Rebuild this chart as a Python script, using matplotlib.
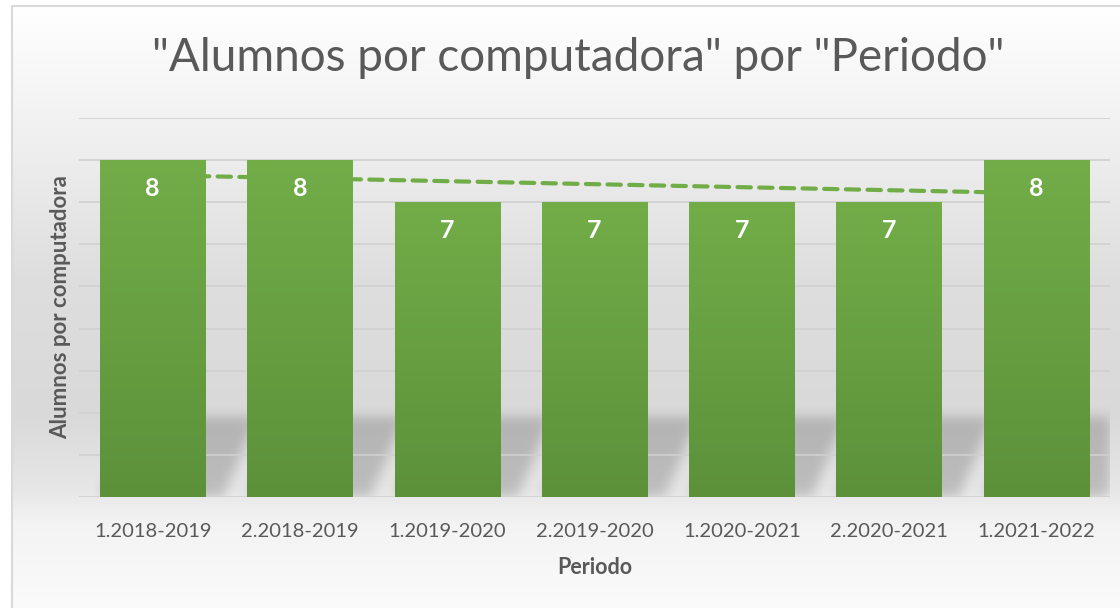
import numpy as np
import matplotlib.pyplot as plt
from matplotlib.colors import LinearSegmentedColormap
from matplotlib.patches import Rectangle

periodos = ['1.2018-2019', '2.2018-2019', '1.2019-2020', '2.2019-2020',
            '1.2020-2021', '2.2020-2021', '1.2021-2022']
alumnos = [8, 8, 7, 7, 7, 7, 8]

plt.rcParams['font.family'] = ['Lato', 'DejaVu Sans']

W, H = 1120, 608
fig = plt.figure(figsize=(W / 100, H / 100), dpi=100)
fig.patch.set_facecolor('white')

# chart area background (vertical grey gradient) + frame
bg = fig.add_axes([12 / W, 0, 1 - 12 / W, (H - 6) / H], zorder=-10)
bg_cmap = LinearSegmentedColormap.from_list('bg', [
    (0.0, '#ffffff'), (0.2, '#f1f1f1'), (0.45, '#dedede'),
    (0.68, '#d9d9d9'), (0.80, '#e6e6e6'), (0.86, '#f3f3f3'), (1.0, '#fbfbfb')])
bg.imshow(np.linspace(0, 1, 256).reshape(-1, 1), cmap=bg_cmap, aspect='auto',
          extent=(0, 1, 0, 1))
bg.set_xlim(0, 1)
bg.set_ylim(0, 1)
bg.axis('off')
fig.patches.append(Rectangle((12 / W, -0.01), 1.0, (H - 6) / H + 0.01,
                             transform=fig.transFigure, fill=False,
                             edgecolor='#d9d9d9', linewidth=1.5, zorder=5))

ax = fig.add_axes([79 / W, (H - 497) / H, 1031 / W, 379 / H])
ax.set_facecolor('none')
x = np.arange(len(periodos))
ymax = 9
ax.set_xlim(-0.5, len(periodos) - 0.5)
ax.set_ylim(0, ymax)

# soft shadow behind the bars
bw = 0.714
nx, ny = 1031, 379
gx = np.linspace(-0.5, len(periodos) - 0.5, nx)
gy = np.linspace(ymax, 0, ny)
GX, GY = np.meshgrid(gx, gy)
mask = np.zeros_like(GX)
for xi in x:
    hs = 1.9
    shear = 0.12
    left = xi - bw / 2 + shear * GY
    right = xi + bw / 2 + 0.12 + shear * GY
    mask[(GY <= hs) & (GX >= left) & (GX <= right)] = 1.0
sig = 6
k = np.exp(-0.5 * (np.arange(-3 * sig, 3 * sig + 1) / sig) ** 2)
k /= k.sum()
mask = np.apply_along_axis(lambda r: np.convolve(r, k, mode='same'), 1, mask)
mask = np.apply_along_axis(lambda c: np.convolve(c, k, mode='same'), 0, mask)
shadow = np.zeros((ny, nx, 4))
shadow[..., 3] = 0.18 * mask
ax.imshow(shadow, extent=(-0.5, len(periodos) - 0.5, 0, ymax), aspect='auto',
          zorder=1, interpolation='bilinear')

# gridlines
for g in range(0, ymax + 1):
    ax.axhline(g, color='#d0d0d0', lw=1.2, zorder=1.5)

# trend line (linear fit)
coef = np.polyfit(x + 1, alumnos, 1)
trend = np.polyval(coef, x + 1)
ax.plot(x, trend, color='#70ad47', lw=3, ls=(0, (3.2, 2.0)),
        dash_capstyle='round', zorder=2)

# bars with vertical gradient
bar_cmap = LinearSegmentedColormap.from_list('bar', ['#5c913a', '#72ad48'])
grad = np.linspace(1, 0, 256).reshape(-1, 1)
for xi, v in zip(x, alumnos):
    ax.imshow(grad, cmap=bar_cmap, aspect='auto', zorder=3,
              extent=(xi - bw / 2, xi + bw / 2, 0, v), vmin=0, vmax=1)
    ax.text(xi, v - 0.68, str(v), ha='center', va='center', color='white',
            fontsize=18, fontweight='bold', zorder=4)
ax.set_xlim(-0.5, len(periodos) - 0.5)
ax.set_ylim(0, ymax)

ax.set_xticks(x)
ax.set_xticklabels(periodos, fontsize=14.5, color='#595959')
ax.tick_params(axis='x', length=0, pad=19)
ax.set_yticks([])
for s in ax.spines.values():
    s.set_visible(False)

ax.set_xlabel('Periodo', fontsize=15.5, fontweight='bold', color='#595959',
              labelpad=12)
ax.set_ylabel('Alumnos por computadora', fontsize=16, fontweight='bold',
              color='#595959', labelpad=6)

fig.text(0.516, 0.905, '"Alumnos por computadora" por "Periodo"',
         ha='center', va='center', fontsize=33, fontweight='normal',
         color='#595959')

fig.savefig('out.png', dpi=100)
